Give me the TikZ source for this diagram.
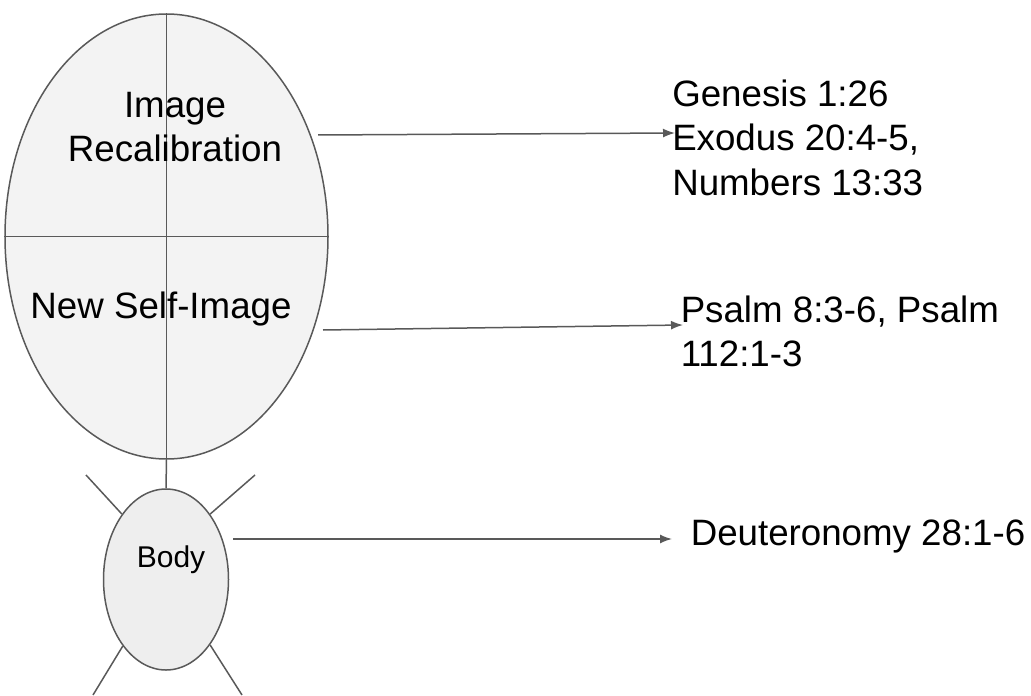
\documentclass[tikz,border=0pt]{standalone}
\usepackage{fontspec}
\setmainfont{Liberation Sans}
\usetikzlibrary{calc,arrows.meta,shapes.geometric}
\definecolor{ln}{HTML}{595959}
\definecolor{headfill}{HTML}{F3F3F3}
\definecolor{bodyfill}{HTML}{EEEEEE}
\begin{document}
\begin{tikzpicture}[x=0.5pt,y=-0.5pt,line width=0.75pt,
    blob/.style={ellipse,draw=ln,inner sep=0pt},
    arr/.style={ln,-{Latex[length=6pt,width=4.5pt]}},
    lbl/.style={inner sep=0pt,font=\fontsize{18.35pt}{22pt}\selectfont},
    ref/.style={lbl,align=left,anchor=base west}]
  \useasboundingbox (0,0) rectangle (1031,695);

  \node[blob,fill=headfill,minimum width=161.5pt,minimum height=222.5pt]
  (head) at (166.5,236.5) {};
  \draw[ln] (head.north) -- (head.south) (head.west) -- (head.east);

  \node[blob,fill=bodyfill,minimum width=62.5pt,minimum height=90.5pt]
  (body) at (166,579.5) {};
  \draw[ln] (head.south) -- (body.north);

  \coordinate (ul) at (86,475);
  \coordinate (ur) at (255,475);
  \coordinate (ll) at (93,695);
  \coordinate (lr) at (242,695);
  \draw[ln] (body.124) -- (ul) (body.56) -- (ur)
  (body.237) -- (ll) (body.-56) -- (lr);

  \node[lbl,align=center,anchor=base] (recal) at (175,162) {Image\\Recalibration};
  \node[lbl,anchor=base] (self) at (161,318) {New Self-Image};
  \node[inner sep=0pt,anchor=base,font=\fontsize{15pt}{18pt}\selectfont]
  (bodytxt) at (171,567) {Body};

  \node[ref] (gen) at (671.5,195) {Genesis 1:26\\Exodus 20:4-5,\\Numbers 13:33};
  \node[ref] (psa) at (680,366) {Psalm 8:3-6, Psalm\\112:1-3};
  \node[ref] (deu) at (690,545) {Deuteronomy 28:1-6};

  \coordinate (a1) at (318,135);
  \coordinate (b1) at (675,133);
  \coordinate (a2) at (323,330);
  \coordinate (b2) at (683,325);
  \coordinate (a3) at (233,539);
  \coordinate (b3) at (672,539);
  \draw[arr] (a1) -- (b1);
  \draw[arr] (a2) -- (b2);
  \draw[arr] (a3) -- (b3);
\end{tikzpicture}
\end{document}
